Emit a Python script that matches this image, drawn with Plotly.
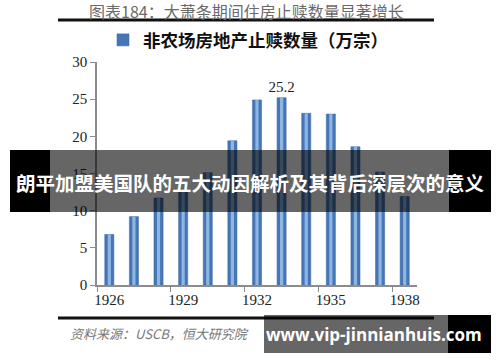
import plotly.graph_objects as go

years = [1926, 1927, 1928, 1929, 1930, 1931, 1932, 1933, 1934, 1935, 1936, 1937, 1938]
foreclosures = [6.8, 9.2, 11.7, 12.6, 15.1, 19.4, 24.9, 25.2, 23.1, 23.0, 18.6, 15.2, 11.9]
labelled_year = 1933
x_tick_years = [1926, 1929, 1932, 1935, 1938]
y_ticks = [0, 5, 10, 15, 20, 25, 30]

title_text = "图表184：大萧条期间住房止赎数量显著增长"
series_name = "非农场房地产止赎数量（万宗）"
source_text = "资料来源：USCB，恒大研究院"
banner_text = "朗平加盟美国队的五大动因解析及其背后深层次的意义"
site_text = "www.vip-jinnianhuis.com"

W, H = 500, 362
# plot-area edges in window pixels
L, R, T, B = 97, 417, 62, 285


def px(x):
    return (x - L) / (R - L)


def py(y):
    return (B - y) / (B - T)


labels = [f"{v}" if yr == labelled_year else "" for yr, v in zip(years, foreclosures)]

fig = go.Figure()
fig.add_trace(go.Bar(
    x=years, y=foreclosures, width=0.37, name=series_name,
    marker=dict(color="#4676b6", line=dict(color="#3a659f", width=0.5)),
    text=labels, textposition="outside", cliponaxis=False, constraintext="none",
    textfont=dict(family="Liberation Serif", size=15, color="#222"),
    showlegend=True,
))
fig.add_trace(go.Bar(
    x=years, y=foreclosures, width=0.13, name=series_name,
    marker=dict(color="#8db6e3", line=dict(width=0)),
    showlegend=False, hoverinfo="skip",
))

fig.update_layout(
    width=W, height=H,
    margin=dict(l=L, r=W - R, t=T, b=H - B, pad=0, autoexpand=False),
    paper_bgcolor="white", plot_bgcolor="white",
    barmode="overlay",
    font=dict(family="Liberation Serif, Noto Sans CJK SC", color="#222"),
    legend=dict(
        orientation="h", x=px(248), xanchor="center", y=py(40), yanchor="middle",
        font=dict(family="Noto Sans CJK SC", size=17.5, color="#111", weight="bold"),
        itemwidth=30, bgcolor="rgba(0,0,0,0)",
    ),
    xaxis=dict(
        range=[1925.5, 1938.5], tickvals=x_tick_years,
        ticktext=[str(y) for y in x_tick_years],
        ticks="", showgrid=False, zeroline=False,
        showline=True, linecolor="#8c8c8c", linewidth=1.5,
        tickfont=dict(family="Liberation Serif", size=15, color="#222"),
        minor=dict(tickvals=[y - 0.5 for y in x_tick_years], ticks="outside",
                   ticklen=5, tickcolor="#8c8c8c", tickwidth=1),
    ),
    yaxis=dict(
        range=[0, 30], tickvals=y_ticks, ticks="outside", ticklen=5,
        tickcolor="#8c8c8c", showgrid=False, zeroline=False,
        showline=True, linecolor="#8c8c8c", linewidth=1.5,
        tickfont=dict(family="Liberation Serif", size=15, color="#222"),
    ),
)

shapes = [
    dict(type="line", xref="paper", yref="paper", x0=px(58), x1=px(434), y0=py(20), y1=py(20),
         line=dict(color="#111", width=3)),
    dict(type="line", xref="paper", yref="paper", x0=px(58), x1=px(434), y0=py(318), y1=py(318),
         line=dict(color="#111", width=3)),
    # overlay banner
    dict(type="rect", xref="paper", yref="paper", x0=px(10), x1=px(50), y0=py(212), y1=py(150),
         fillcolor="black", line=dict(width=0), layer="above"),
    dict(type="rect", xref="paper", yref="paper", x0=px(50), x1=px(449), y0=py(212), y1=py(150),
         fillcolor="rgba(0,0,0,0.6)", line=dict(width=0), layer="above"),
    dict(type="rect", xref="paper", yref="paper", x0=px(449), x1=px(491), y0=py(212), y1=py(150),
         fillcolor="black", line=dict(width=0), layer="above"),
    # site box
    dict(type="rect", xref="paper", yref="paper", x0=px(264), x1=px(448), y0=py(353), y1=py(315),
         fillcolor="rgba(0,0,0,0.6)", line=dict(width=0), layer="above"),
    dict(type="rect", xref="paper", yref="paper", x0=px(448), x1=px(491), y0=py(353), y1=py(315),
         fillcolor="black", line=dict(width=0), layer="above"),
]
fig.update_layout(shapes=shapes)

annotations = [
    dict(text=title_text, xref="paper", yref="paper", x=px(246), y=py(11),
         xanchor="center", yanchor="middle", showarrow=False,
         font=dict(family="Noto Sans CJK SC", size=16, color="#6a6a6a")),
    dict(text=source_text, xref="paper", yref="paper", x=px(68), y=py(333),
         xanchor="left", yanchor="middle", showarrow=False,
         font=dict(family="Noto Sans CJK SC", size=13, color="#777", style="italic")),
    dict(text=banner_text, xref="paper", yref="paper", x=px(250), y=py(182),
         xanchor="center", yanchor="middle", showarrow=False,
         font=dict(family="Noto Sans CJK SC", size=19.5, color="white", weight="bold")),
    dict(text=site_text, xref="paper", yref="paper", x=px(374), y=py(334),
         xanchor="center", yanchor="middle", showarrow=False,
         font=dict(family="Open Sans", size=17, color="white", weight="bold")),
]
fig.update_layout(annotations=annotations)

# remove the browser's default 8px body margin so the figure fills the window
fig.write_html(
    "out.html",
    config={"displayModeBar": False},
    post_script="document.body.style.margin='0';document.body.style.overflow='hidden';",
)
